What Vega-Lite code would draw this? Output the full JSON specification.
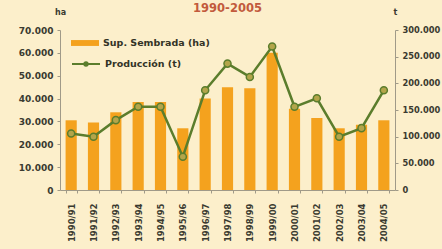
{
  "$schema": "https://vega.github.io/schema/vega-lite/v6.json",
  "autosize": "none",
  "width": 335,
  "height": 160,
  "padding": {"left": 60, "top": 30, "right": 47, "bottom": 59},
  "background": "#fcefcb",
  "title": {"text": "1990-2005", "color": "#c25a3c", "fontSize": 11.5, "font": "DejaVu Sans", "fontWeight": "bold", "anchor": "middle", "dy": 10},
  "config": {
    "view": {"stroke": null},
    "font": "DejaVu Sans",
    "axis": {"labelFont": "DejaVu Sans", "labelFontWeight": "bold", "labelFontSize": 9, "labelColor": "#3a3a30", "domainColor": "#a09a88", "tickColor": "#a09a88", "grid": false, "titleFont": "DejaVu Sans", "titleFontWeight": "bold", "titleFontSize": 8, "titleColor": "#3a3a30"}
  },
  "data": {"values": [
    {"campana": "1990/91", "sup": 30500, "prod": 106000},
    {"campana": "1991/92", "sup": 29500, "prod": 100000},
    {"campana": "1992/93", "sup": 34000, "prod": 131000},
    {"campana": "1993/94", "sup": 38500, "prod": 156000},
    {"campana": "1994/95", "sup": 38500, "prod": 156000},
    {"campana": "1995/96", "sup": 27000, "prod": 62500},
    {"campana": "1996/97", "sup": 40000, "prod": 187000},
    {"campana": "1997/98", "sup": 45000, "prod": 237000},
    {"campana": "1998/99", "sup": 44500, "prod": 212000},
    {"campana": "1999/00", "sup": 60000, "prod": 269000},
    {"campana": "2000/01", "sup": 35500, "prod": 156000},
    {"campana": "2001/02", "sup": 31500, "prod": 172000},
    {"campana": "2002/03", "sup": 27000, "prod": 100000},
    {"campana": "2003/04", "sup": 28500, "prod": 116000},
    {"campana": "2004/05", "sup": 30500, "prod": 187000}
  ]},
  "encoding": {
    "x": {"field": "campana", "type": "ordinal", "sort": null,
      "scale": {"paddingInner": 0.5, "paddingOuter": 0.25},
      "axis": {"title": null, "labelAngle": -90, "labelPadding": 10, "labelFontSize": 8.5, "tickBand": "extent", "tickSize": 3}}
  },
  "layer": [
    {
      "mark": {"type": "bar", "color": "#f4a21e"},
      "encoding": {
        "y": {"field": "sup", "type": "quantitative",
          "scale": {"domain": [0, 70000]},
          "axis": {"title": "ha", "titleAngle": 0, "titleX": 0, "titleY": -14, "titleAlign": "center", "titleBaseline": "bottom",
            "values": [0, 10000, 20000, 30000, 40000, 50000, 60000, 70000],
            "labelExpr": "replace(format(datum.value, ','), ',', '.')", "tickSize": 3, "labelPadding": 4}},
        "fill": {"datum": "Sup. Sembrada (ha)", "type": "nominal",
          "scale": {"domain": ["Sup. Sembrada (ha)"], "range": ["#f4a21e"]},
          "legend": {"title": null, "orient": "none", "legendX": 11, "legendY": -1, "padding": 0,
            "symbolType": "M-1,-0.21H1V0.21H-1Z", "symbolSize": 784, "symbolStrokeWidth": 0,
            "labelFont": "DejaVu Sans", "labelFontWeight": "bold", "labelFontSize": 9.5, "labelColor": "#333326", "labelOffset": 4}}
      }
    },
    {
      "mark": {"type": "line", "color": "#5b7d2c", "strokeWidth": 2.5,
        "point": {"filled": true, "fill": "#b3a54a", "stroke": "#5b7d2c", "strokeWidth": 1.5, "size": 50}},
      "encoding": {
        "y": {"field": "prod", "type": "quantitative",
          "scale": {"domain": [0, 300000]},
          "axis": {"orient": "right", "title": "t", "titleAngle": 0, "titleX": 0, "titleY": -14, "titleAlign": "center", "titleBaseline": "bottom",
            "values": [0, 50000, 100000, 150000, 200000, 250000, 300000],
            "labelExpr": "replace(format(datum.value, ','), ',', '.')", "tickSize": 3, "labelPadding": 4, "labelFontSize": 8.3}},
        "stroke": {"datum": "Producción (t)", "type": "nominal",
          "scale": {"domain": ["Producción (t)"], "range": ["#5b7d2c"]},
          "legend": {"title": null, "orient": "none", "legendX": 11, "legendY": 19, "padding": 0,
            "symbolType": "M-1,0H1M0.12,0A0.12,0.12,0,1,1,-0.12,0A0.12,0.12,0,1,1,0.12,0Z", "symbolSize": 784,
            "symbolStrokeWidth": 2, "symbolFillColor": "#b3a54a",
            "labelFont": "DejaVu Sans", "labelFontWeight": "bold", "labelFontSize": 9.5, "labelColor": "#333326", "labelOffset": 4}}
      }
    }
  ],
  "resolve": {"scale": {"y": "independent", "fill": "independent", "stroke": "independent"}}
}
